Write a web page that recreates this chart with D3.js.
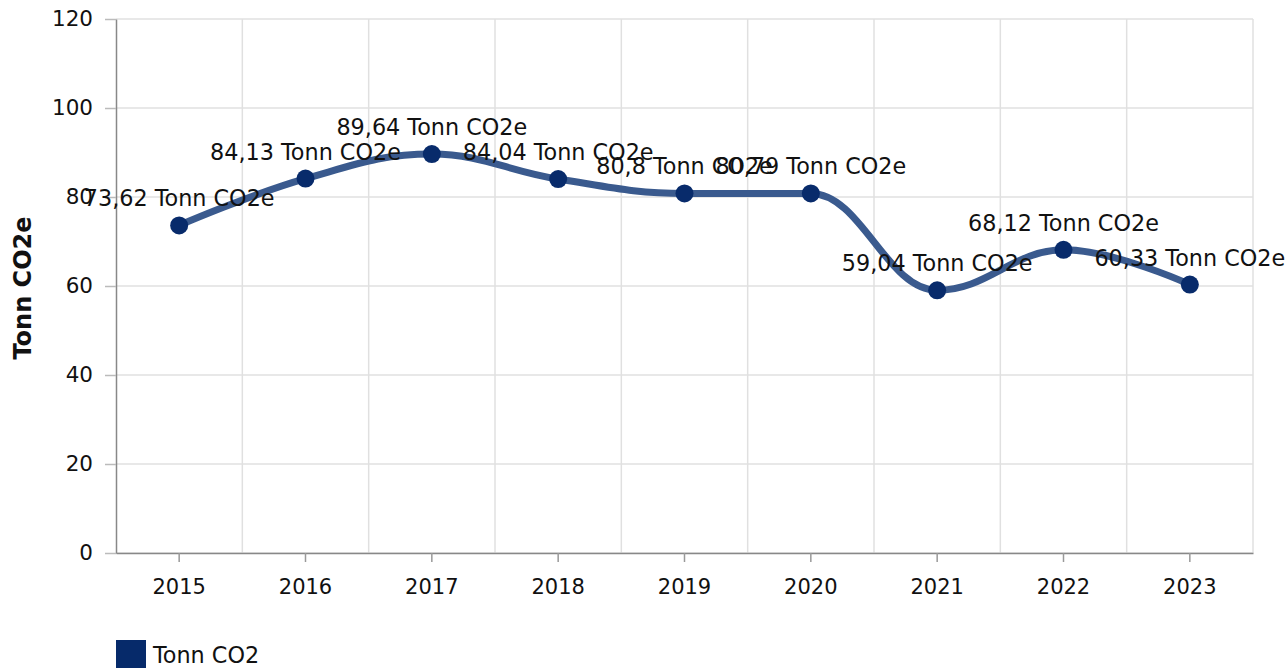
<!DOCTYPE html>
<html>
<head>
<meta charset="utf-8">
<script src="https://cdn.jsdelivr.net/npm/d3@7"></script>
<style>
body { margin: 0; background: #fff; }
svg { display: block; font-family: "DejaVu Sans", Verdana, sans-serif; }
</style>
</head>
<body>
<script>
var years = ["2015", "2016", "2017", "2018", "2019", "2020", "2021", "2022", "2023"];
var values = [73.62, 84.13, 89.64, 84.04, 80.8, 80.79, 59.04, 68.12, 60.33];
var yTicks = [0, 20, 40, 60, 80, 100, 120];
var seriesName = "Tonn CO2";
var unit = "Tonn CO2e";

var width = 1287, height = 668;
var plotLeft = 116, plotRight = 1253, plotTop = 19, plotBottom = 553;

var svg = d3.select("body").append("svg")
    .attr("width", width)
    .attr("height", height);

var x = d3.scaleBand().domain(years).range([plotLeft, plotRight]);
var y = d3.scaleLinear().domain([0, 120]).range([plotBottom, plotTop]);

// grid
svg.append("g").selectAll("line")
    .data(yTicks)
    .enter().append("line")
    .attr("x1", plotLeft).attr("x2", plotRight)
    .attr("y1", function (d) { return y(d); })
    .attr("y2", function (d) { return y(d); })
    .attr("stroke", "#e0e0e0").attr("stroke-width", 1.5);

var bounds = years.slice(1).map(function (d) { return x(d); }).concat([plotRight]);
svg.append("g").selectAll("line")
    .data(bounds)
    .enter().append("line")
    .attr("x1", function (d) { return d; }).attr("x2", function (d) { return d; })
    .attr("y1", plotTop).attr("y2", plotBottom)
    .attr("stroke", "#e0e0e0").attr("stroke-width", 1.5);

// y axis
var yAxis = svg.append("g")
    .attr("transform", "translate(" + plotLeft + ",0)")
    .call(d3.axisLeft(y).tickValues(yTicks).tickSize(11).tickSizeOuter(0).tickPadding(12));
yAxis.select(".domain").attr("stroke", "#888").attr("stroke-width", 1.5);
yAxis.selectAll(".tick line").attr("stroke", "#bbb").attr("stroke-width", 1.5);
yAxis.selectAll("text").attr("font-size", "21.5px").attr("fill", "#111")
    .attr("font-family", "DejaVu Sans, Verdana, sans-serif");

// x axis
var xAxis = svg.append("g")
    .attr("transform", "translate(0," + plotBottom + ")")
    .call(d3.axisBottom(x).tickSize(9).tickSizeOuter(0).tickPadding(17));
xAxis.select(".domain").attr("stroke", "#888").attr("stroke-width", 1.5);
xAxis.selectAll(".tick line").attr("stroke", "#999").attr("stroke-width", 1.5);
xAxis.selectAll("text").attr("font-size", "21px").attr("fill", "#111")
    .attr("font-family", "DejaVu Sans, Verdana, sans-serif");

// axis title
svg.append("text")
    .attr("transform", "translate(31," + ((plotTop + plotBottom) / 2 + 2) + ") rotate(-90)")
    .attr("text-anchor", "middle")
    .attr("font-size", "24px")
    .attr("font-weight", "bold")
    .attr("fill", "#111")
    .text(unit);

// spline (smoothing 1.5, no overshoot past neighbours)
var pts = values.map(function (d, i) {
    return { x: x(years[i]) + x.bandwidth() / 2, y: y(d) };
});
function spline(p) {
    var path = d3.path();
    var sm = 1.5, den = 2.5;
    path.moveTo(p[0].x, p[0].y);
    for (var i = 0; i < p.length; i++) {
        var pt = p[i], last = p[i - 1], next = p[i + 1];
        if (last && next) {
            var lcx = (sm * pt.x + last.x) / den, lcy = (sm * pt.y + last.y) / den;
            var rcx = (sm * pt.x + next.x) / den, rcy = (sm * pt.y + next.y) / den;
            var corr = ((rcy - lcy) * (rcx - pt.x)) / (rcx - lcx) + pt.y - rcy;
            lcy += corr; rcy += corr;
            if (lcy > last.y && lcy > pt.y) { lcy = Math.max(last.y, pt.y); rcy = 2 * pt.y - lcy; }
            else if (lcy < last.y && lcy < pt.y) { lcy = Math.min(last.y, pt.y); rcy = 2 * pt.y - lcy; }
            if (rcy > next.y && rcy > pt.y) { rcy = Math.max(next.y, pt.y); lcy = 2 * pt.y - rcy; }
            else if (rcy < next.y && rcy < pt.y) { rcy = Math.min(next.y, pt.y); lcy = 2 * pt.y - rcy; }
            pt.lcx = lcx; pt.lcy = lcy; pt.rcx = rcx; pt.rcy = rcy;
        }
        if (last) {
            path.bezierCurveTo(
                last.rcx !== undefined ? last.rcx : last.x,
                last.rcy !== undefined ? last.rcy : last.y,
                pt.lcx !== undefined ? pt.lcx : pt.x,
                pt.lcy !== undefined ? pt.lcy : pt.y,
                pt.x, pt.y);
        }
    }
    return path.toString();
}

svg.append("path")
    .attr("d", spline(pts))
    .attr("fill", "none")
    .attr("stroke", "#3a5a8e")
    .attr("stroke-width", 7)
    .attr("stroke-linecap", "round")
    .attr("stroke-linejoin", "round");

svg.append("g").selectAll("circle")
    .data(pts)
    .enter().append("circle")
    .attr("cx", function (d) { return d.x; })
    .attr("cy", function (d) { return d.y; })
    .attr("r", 9)
    .attr("fill", "#082b6b");

svg.append("g").selectAll("text")
    .data(values)
    .enter().append("text")
    .attr("x", function (d, i) { return pts[i].x; })
    .attr("y", function (d) { return y(d) - 19; })
    .attr("text-anchor", "middle")
    .attr("font-size", "22.3px")
    .attr("fill", "#111")
    .text(function (d) { return String(d).replace(".", ",") + " " + unit; });

// legend
var legend = svg.append("g").attr("transform", "translate(116,640)");
legend.append("rect")
    .attr("width", 30).attr("height", 30)
    .attr("fill", "#062a6a");
legend.append("text")
    .attr("x", 37).attr("y", 23)
    .attr("font-size", "22.3px")
    .attr("fill", "#111")
    .text(seriesName);
</script>
</body>
</html>
